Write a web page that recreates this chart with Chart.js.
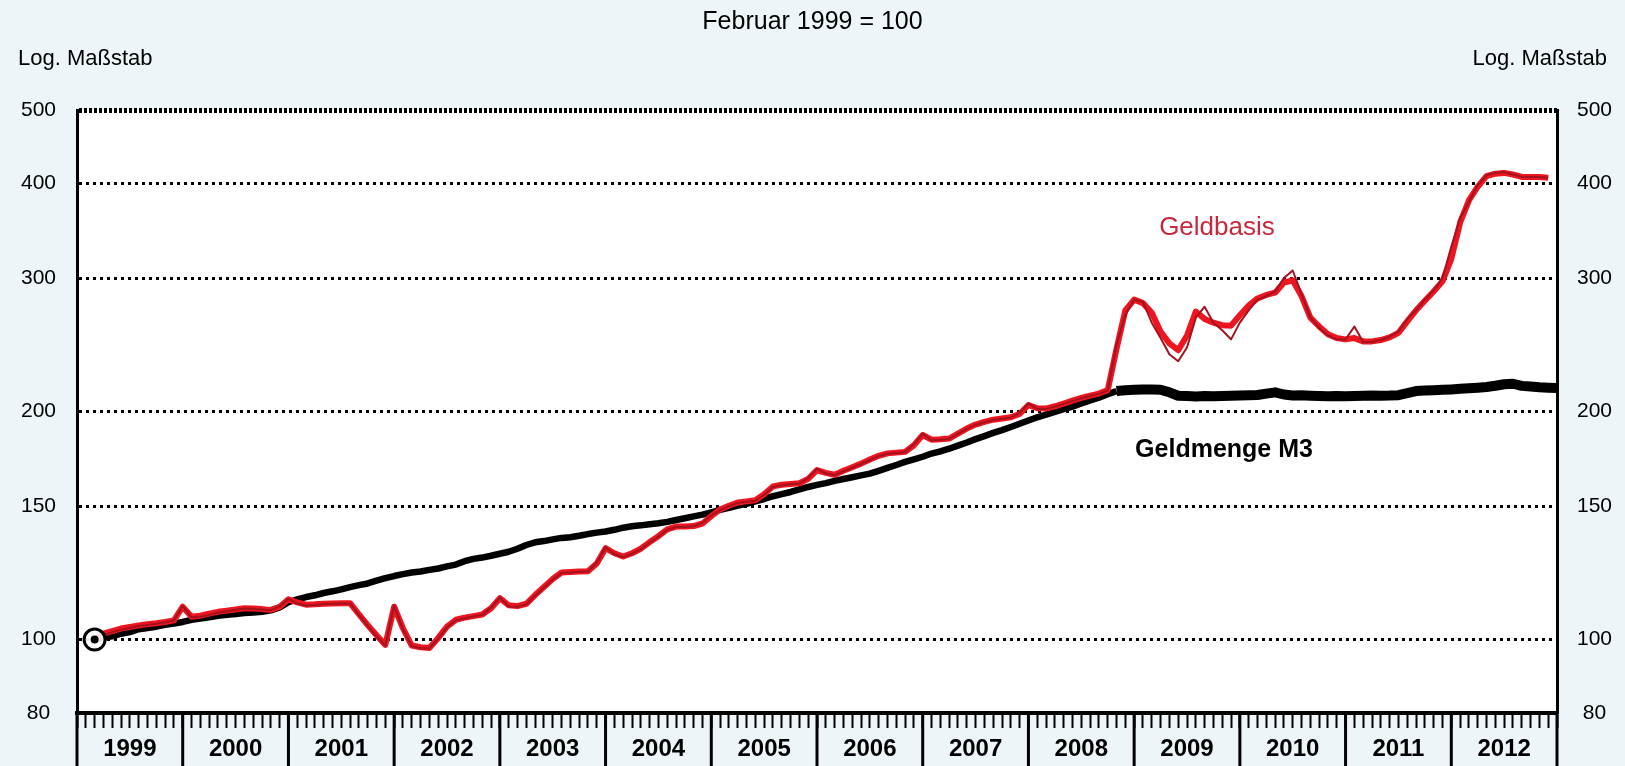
<!DOCTYPE html>
<html lang="de">
<head>
<meta charset="utf-8">
<title>Geldbasis und Geldmenge M3</title>
<script src="https://cdn.jsdelivr.net/npm/chart.js@4.4.0/dist/chart.umd.min.js"></script>
<style>
  html, body { margin: 0; padding: 0; background: #eef5f9; }
  canvas { display: block; }
</style>
</head>
<body>
<canvas id="chart" width="1625" height="766"></canvas>
<script>
// Monatswerte ab Februar 1999 (= 100), logarithmische Skala
const startMonat = 2; // Februar 1999, Monatsende
const jahre = ['1999', '2000', '2001', '2002', '2003', '2004', '2005', '2006', '2007', '2008', '2009', '2010', '2011', '2012'];
const yTicks = [80, 100, 150, 200, 300, 400, 500];

// dicke rote Linie
const geldbasis = [
    100.0, 101.8, 102.6, 103.4, 103.9, 104.4, 104.8, 105.1, 105.5, 106.0, 110.5,        // 1999
    107.2, 107.5, 108.2, 108.8, 109.2, 109.6, 110.0, 109.9, 109.7, 109.4, 110.4, 113.0, // 2000
    112.0, 111.2, 111.3, 111.5, 111.6, 111.7, 111.7, 108.0, 104.5, 101.3, 98.4, 110.5,  // 2001
    103.5, 98.2, 97.7, 97.5, 100.5, 104.0, 106.2, 106.9, 107.4, 107.9, 110.0, 113.4,    // 2002
    111.0, 110.7, 111.5, 114.5, 117.3, 120.2, 122.6, 122.8, 123.0, 123.1, 126.0, 132.0, // 2003
    130.0, 128.7, 130.0, 131.8, 134.5, 136.9, 139.8, 141.0, 141.0, 141.2, 142.3, 145.5, // 2004
    148.5, 150.2, 151.7, 152.2, 152.7, 155.5, 159.3, 160.1, 160.5, 160.8, 163.0, 167.4, // 2005
    166.0, 165.0, 167.0, 168.8, 170.7, 172.8, 174.8, 176.1, 176.5, 176.9, 180.5, 186.2, // 2006
    183.6, 183.8, 184.2, 187.0, 189.9, 192.2, 193.8, 195.1, 195.8, 196.5, 198.5, 204.0, // 2007
    202.0, 201.8, 203.2, 204.9, 206.7, 208.4, 209.9, 211.2, 213.4, 242.0, 272.0, 281.0, // 2008
    278.0, 270.0, 255.0, 246.0, 241.0, 252.0, 271.0, 265.0, 262.0, 260.0, 259.6, 268.0, // 2009
    276.0, 282.0, 285.0, 287.0, 296.0, 298.0, 284.0, 266.0, 259.0, 253.0, 250.0, 249.0, // 2010
    250.0, 247.5, 247.5, 248.5, 250.5, 254.0, 263.0, 272.0, 280.0, 288.0, 297.0, 318.0, // 2011
    355.0, 380.0, 396.0, 409.0, 412.0, 413.0, 411.0, 408.0, 408.0, 408.0, 407.0         // 2012
];

// dünne dunkelrote Linie
const geldbasisDuenn = [
    100.0, 101.4, 102.3, 103.0, 103.6, 104.2, 104.5, 104.9, 105.4, 106.0, 110.8,        // 1999
    107.0, 107.2, 107.8, 108.5, 109.0, 109.5, 109.9, 109.8, 109.6, 109.3, 110.6, 113.2, // 2000
    111.6, 110.9, 111.1, 111.4, 111.5, 111.6, 111.6, 107.8, 104.3, 101.0, 98.2, 110.8,  // 2001
    103.2, 98.0, 97.5, 97.4, 100.3, 103.8, 106.0, 106.7, 107.3, 107.8, 110.2, 113.6,    // 2002
    110.6, 110.5, 111.3, 114.3, 117.1, 120.0, 122.4, 122.6, 122.9, 123.0, 126.4, 132.4, // 2003
    129.6, 128.5, 129.8, 131.6, 134.3, 136.7, 139.6, 140.8, 140.8, 141.1, 142.6, 145.8, // 2004
    148.2, 150.0, 151.5, 152.0, 152.5, 155.3, 159.0, 159.9, 160.3, 160.7, 163.4, 168.0, // 2005
    165.6, 164.8, 166.8, 168.6, 170.5, 172.6, 174.6, 175.9, 176.3, 176.8, 181.0, 187.0, // 2006
    183.2, 183.6, 184.0, 186.8, 189.7, 192.0, 193.6, 194.9, 195.6, 196.4, 199.0, 205.0, // 2007
    201.6, 201.6, 203.0, 204.7, 206.5, 208.2, 209.7, 211.0, 213.2, 245.0, 268.0, 281.0, // 2008
    279.0, 262.0, 250.0, 238.0, 233.0, 243.0, 266.0, 275.0, 262.0, 256.0, 249.0, 262.0, // 2009
    272.0, 281.0, 284.0, 288.0, 300.0, 307.0, 286.0, 266.0, 258.0, 252.0, 249.0, 249.0, // 2010
    259.0, 247.0, 247.0, 248.5, 251.0, 255.0, 265.0, 272.0, 281.0, 289.0, 300.0, 330.0, // 2011
    360.0, 378.0, 398.0, 410.0, 413.0, 414.0, 411.0, 408.0, 408.0, 408.0, 407.0         // 2012
];

const geldmengeM3 = [
    100.0, 100.6, 101.0, 101.8, 102.3, 103.2, 103.6, 104.0, 104.6, 105.0, 105.5,        // 1999
    106.2, 106.6, 107.0, 107.5, 107.8, 108.1, 108.4, 108.6, 108.8, 109.3, 110.3, 112.0, // 2000
    113.0, 113.8, 114.4, 115.2, 115.8, 116.5, 117.3, 118.0, 118.6, 119.6, 120.5, 121.3, // 2001
    122.0, 122.6, 123.0, 123.6, 124.1, 124.9, 125.6, 126.9, 127.8, 128.3, 129.0, 129.8, // 2002
    130.6, 131.8, 133.3, 134.4, 134.9, 135.6, 136.2, 136.5, 137.1, 137.8, 138.4, 138.9, // 2003
    139.6, 140.5, 141.1, 141.5, 142.0, 142.4, 143.0, 143.8, 144.6, 145.4, 146.2, 147.2, // 2004
    148.3, 149.2, 150.3, 151.1, 152.2, 153.3, 154.6, 155.6, 156.6, 157.8, 159.0, 160.0, // 2005
    160.9, 162.0, 162.9, 163.8, 164.7, 165.6, 167.0, 168.5, 170.0, 171.6, 172.9, 174.3, // 2006
    176.0, 177.2, 178.6, 180.3, 182.0, 183.9, 185.6, 187.4, 189.0, 190.8, 192.7, 194.6, // 2007
    196.5, 198.1, 199.8, 201.5, 203.0, 204.9, 206.8, 208.6, 210.8, 212.8, 213.4, 213.6, // 2008
    213.8, 213.9, 213.7, 212.0, 209.8, 209.6, 209.4, 209.6, 209.5, 209.7, 209.8, 209.9, // 2009
    210.1, 210.3, 211.2, 212.0, 210.6, 210.0, 210.1, 209.8, 209.6, 209.5, 209.6, 209.5, // 2010
    209.7, 209.8, 209.9, 209.8, 209.9, 210.2, 211.5, 212.8, 213.2, 213.4, 213.6, 213.9, // 2011
    214.3, 214.6, 215.0, 215.5, 216.3, 217.3, 217.6, 216.2, 215.8, 215.3, 215.0, 214.8  // 2012
];

// Beschriftung der Kurven (in Datenkoordinaten)
const kurvenText = [
    { text: 'Geldbasis', monat: 129.4, wert: 349, farbe: '#c8283a', fett: false, groesse: 26 },
    { text: 'Geldmenge M3', monat: 130.2, wert: 178, farbe: '#000000', fett: true, groesse: 25 }
];

const schrift = "'Liberation Sans', Arial, sans-serif";
const rot = '#ec1520';

const toPoints = arr => arr.map((v, i) => ({ x: i + startMonat, y: v }));

const monatsTicks = [];
for (let m = 0; m <= jahre.length * 12; m++) monatsTicks.push(m);

const zusatz = {
    id: 'zusatz',
    beforeDraw(chart) {
        const { ctx, chartArea: a } = chart;
        ctx.save();
        ctx.fillStyle = '#ffffff';
        ctx.fillRect(a.left, a.top, a.right - a.left, a.bottom - a.top);
        ctx.restore();
    },
    afterDraw(chart) {
        const { ctx, chartArea: a, scales } = chart;
        ctx.save();
        // Jahrestrenner unter der Achse
        ctx.strokeStyle = '#000';
        ctx.lineWidth = 3;
        for (let j = 0; j <= jahre.length; j++) {
            const x = scales.x.getPixelForValue(j * 12);
            ctx.beginPath();
            ctx.moveTo(x, a.bottom);
            ctx.lineTo(x, chart.height);
            ctx.stroke();
        }
        // Log. Maßstab
        ctx.fillStyle = '#000';
        ctx.font = '22px ' + schrift;
        ctx.textBaseline = 'alphabetic';
        ctx.textAlign = 'left';
        ctx.fillText('Log. Maßstab', 18, 65);
        ctx.textAlign = 'right';
        ctx.fillText('Log. Maßstab', 1607, 65);
        // Kurvenbeschriftung
        ctx.textAlign = 'center';
        ctx.textBaseline = 'middle';
        kurvenText.forEach(t => {
            const px = scales.x.getPixelForValue(t.monat);
            const py = scales.y.getPixelForValue(t.wert);
            ctx.fillStyle = t.farbe;
            ctx.font = (t.fett ? 'bold ' : '') + t.groesse + 'px ' + schrift;
            ctx.fillText(t.text, px, py);
        });
        ctx.restore();
    }
};

new Chart(document.getElementById('chart'), {
    type: 'line',
    data: {
        datasets: [
            {
                label: 'Basis',
                data: [{ x: startMonat, y: geldbasis[0] }],
                showLine: false,
                pointRadius: 4,
                pointBackgroundColor: '#000',
                pointBorderWidth: 0,
                order: 0
            },
            {
                label: 'Basisring',
                data: [{ x: startMonat, y: geldbasis[0] }],
                showLine: false,
                pointRadius: 10.5,
                pointBackgroundColor: 'rgba(255,255,255,0.9)',
                pointBorderColor: '#000',
                pointBorderWidth: 3,
                order: 1
            },
            {
                label: 'Geldbasis (dünn)',
                data: toPoints(geldbasisDuenn),
                borderColor: '#a3121f',
                borderWidth: 2,
                borderJoinStyle: 'round',
                pointRadius: 0,
                tension: 0,
                order: 2
            },
            {
                label: 'Geldbasis',
                data: toPoints(geldbasis),
                borderColor: rot,
                borderWidth: 6,
                borderJoinStyle: 'round',
                pointRadius: 0,
                tension: 0,
                order: 3
            },
            {
                label: 'Geldmenge M3',
                data: toPoints(geldmengeM3),
                borderColor: '#000',
                borderWidth: 6.5,
                borderJoinStyle: 'round',
                pointRadius: 0,
                tension: 0,
                segment: {
                    borderWidth: c => (c.p0.parsed.x >= 118 ? 10 : 6.5)
                },
                order: 4
            }
        ]
    },
    options: {
        responsive: false,
        animation: false,
        parsing: false,
        layout: { padding: 0 },
        plugins: {
            legend: { display: false },
            tooltip: { enabled: false },
            title: {
                display: true,
                text: 'Februar 1999 = 100',
                color: '#000',
                font: { family: schrift, size: 25, weight: 'normal' },
                padding: { top: 7, bottom: 73 }
            }
        },
        scales: {
            x: {
                type: 'linear',
                min: 0,
                max: jahre.length * 12,
                afterBuildTicks: s => { s.ticks = monatsTicks.map(m => ({ value: m })); },
                afterFit: s => { s.height = 53; },
                ticks: {
                    autoSkip: false,
                    maxRotation: 0,
                    padding: 7,
                    color: '#000',
                    font: { family: schrift, size: 24, weight: 'bold' },
                    callback: v => (v % 12 === 6 ? jahre[(v - 6) / 12] : '')
                },
                grid: {
                    drawOnChartArea: false,
                    tickLength: 15,
                    tickWidth: 2,
                    tickColor: '#000'
                },
                border: { display: true, color: '#000', width: 4 }
            },
            y: {
                type: 'logarithmic',
                position: 'left',
                min: 80,
                max: 500,
                afterBuildTicks: s => { s.ticks = yTicks.map(v => ({ value: v })); },
                afterFit: s => { s.width = 77; },
                ticks: {
                    autoSkip: false,
                    crossAlign: 'center',
                    padding: 21,
                    color: '#000',
                    font: { family: schrift, size: 21 },
                    callback: v => String(v)
                },
                grid: {
                    drawTicks: false,
                    color: '#000',
                    lineWidth: c => (!c.tick || c.tick.value === 80 ? 0 : (c.tick.value === 500 ? 5 : 3))
                },
                border: {
                    display: true,
                    color: '#000',
                    width: 3,
                    dash: c => (c.tick && c.tick.value === 500 ? [3, 2] : [3, 4])
                }
            },
            y2: {
                type: 'logarithmic',
                position: 'right',
                min: 80,
                max: 500,
                afterBuildTicks: s => { s.ticks = yTicks.map(v => ({ value: v })); },
                afterFit: s => { s.width = 68; },
                ticks: {
                    autoSkip: false,
                    crossAlign: 'center',
                    padding: 20,
                    color: '#000',
                    font: { family: schrift, size: 21 },
                    callback: v => String(v)
                },
                grid: { drawOnChartArea: false, drawTicks: false },
                border: { display: true, color: '#000', width: 3 }
            }
        }
    },
    plugins: [zusatz]
});
</script>
</body>
</html>
